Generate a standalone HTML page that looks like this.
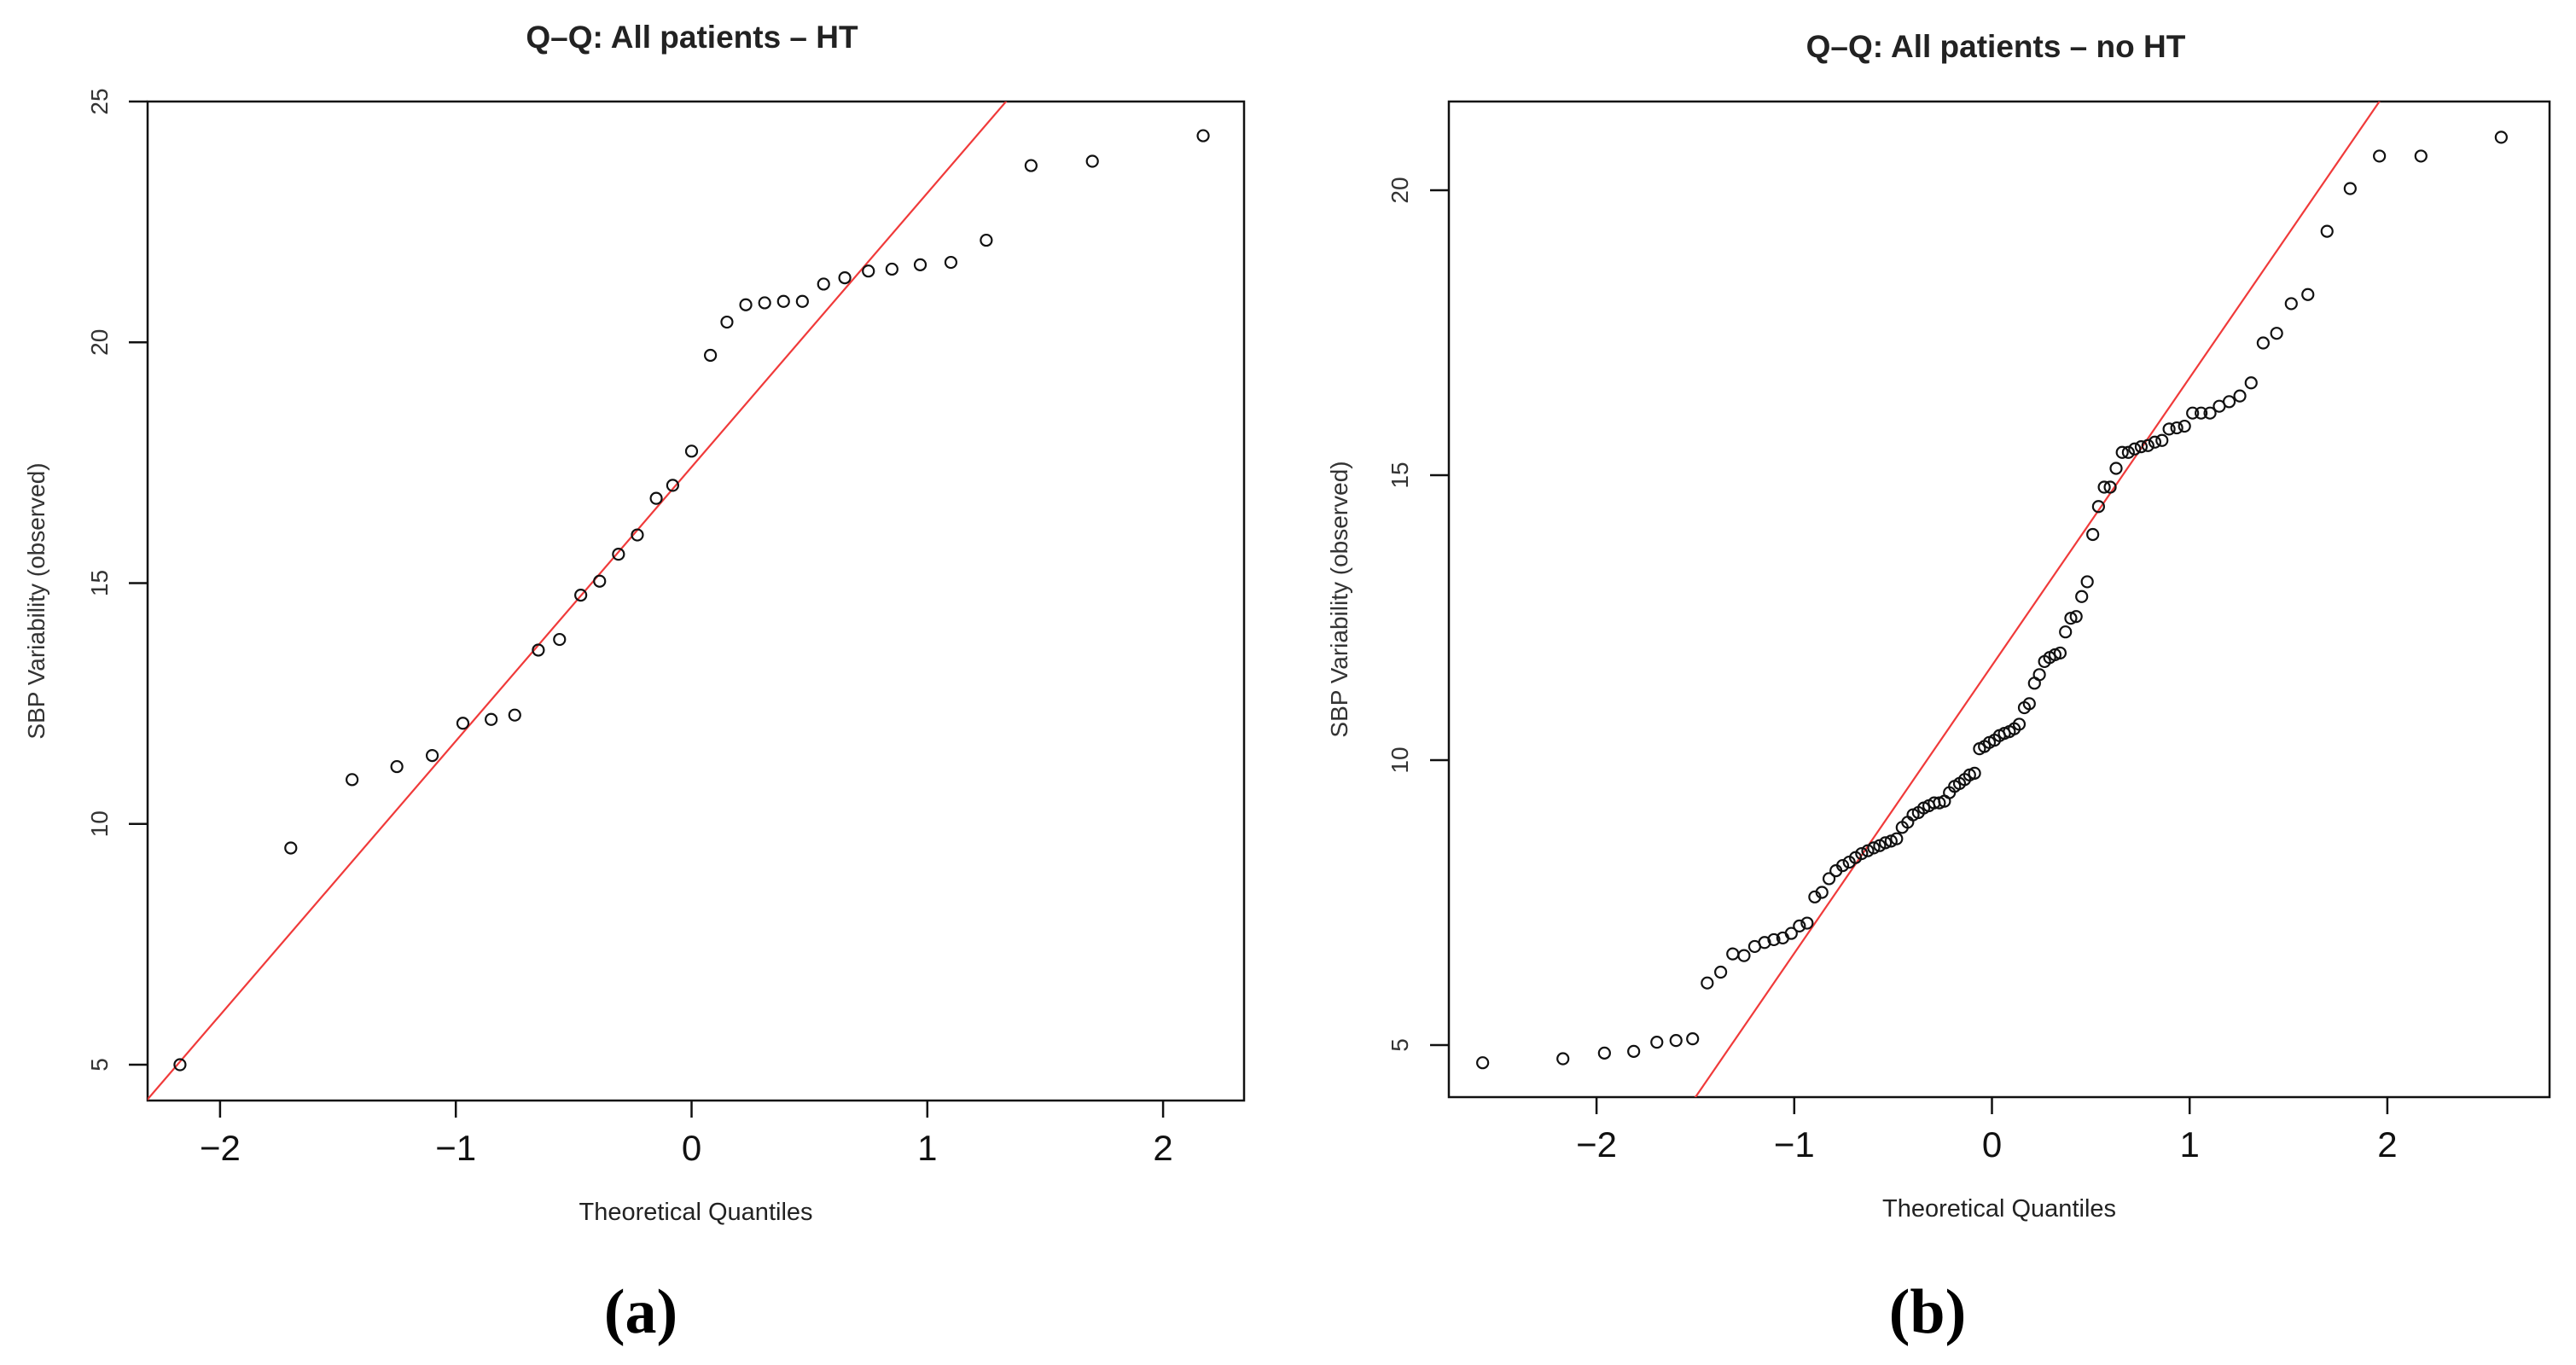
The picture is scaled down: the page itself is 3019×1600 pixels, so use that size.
<!DOCTYPE html>
<html><head><meta charset="utf-8"><style>
html,body{margin:0;padding:0;background:#fff;overflow:hidden;width:3019px;height:1600px}
svg{display:block}
</style></head><body>
<svg id="fig" width="3019" height="1600" viewBox="0 0 3019 1600" xmlns="http://www.w3.org/2000/svg" font-family="Liberation Sans, sans-serif">
<defs>
<clipPath id="clipA"><rect x="173" y="119" width="1285" height="1171"/></clipPath>
<clipPath id="clipB"><rect x="1698" y="119" width="1290" height="1167"/></clipPath>
</defs>
<g id="panelA"></g>
<g id="panelB"></g>
</svg>
<script>
// Panel (a) data
const aTheo = [-2.17,-1.70,-1.44,-1.25,-1.10,-0.97,-0.85,-0.75,-0.65,-0.56,-0.47,-0.39,-0.31,-0.23,-0.15,-0.08,0,0.08,0.15,0.23,0.31,0.39,0.47,0.56,0.65,0.75,0.85,0.97,1.10,1.25,1.44,1.70,2.17];
const aObs = [5.0,9.5,10.92,11.19,11.42,12.09,12.17,12.26,13.61,13.83,14.75,15.04,15.6,16.0,16.76,17.03,17.74,19.73,20.42,20.78,20.82,20.85,20.85,21.21,21.34,21.48,21.52,21.61,21.66,22.12,23.67,23.76,24.29];
const aLine = [5.69, 17.41]; // slope, intercept
const aXTicks = [-2,-1,0,1,2];
const aYTicks = [5,10,15,20,25];

// Panel (b) data
const bTheo = [-2.576,-2.17,-1.96,-1.812,-1.695,-1.598,-1.514,-1.44,-1.372,-1.311,-1.254,-1.2,-1.15,-1.103,-1.058,-1.015,-0.974,-0.935,-0.896,-0.86,-0.824,-0.789,-0.755,-0.722,-0.69,-0.659,-0.628,-0.598,-0.568,-0.539,-0.51,-0.482,-0.454,-0.426,-0.399,-0.372,-0.345,-0.319,-0.292,-0.266,-0.24,-0.215,-0.189,-0.164,-0.138,-0.113,-0.088,-0.063,-0.038,-0.013,0.013,0.038,0.063,0.088,0.113,0.138,0.164,0.189,0.215,0.24,0.266,0.292,0.319,0.345,0.372,0.399,0.426,0.454,0.482,0.51,0.539,0.568,0.598,0.628,0.659,0.69,0.722,0.755,0.789,0.824,0.86,0.896,0.935,0.974,1.015,1.058,1.103,1.15,1.2,1.254,1.311,1.372,1.44,1.514,1.598,1.695,1.812,1.96,2.17,2.576];
const bObs = [4.69,4.76,4.86,4.89,5.05,5.08,5.11,6.09,6.28,6.6,6.57,6.73,6.8,6.85,6.88,6.96,7.09,7.14,7.6,7.68,7.92,8.06,8.15,8.21,8.29,8.36,8.41,8.46,8.5,8.55,8.58,8.62,8.82,8.91,9.04,9.08,9.16,9.2,9.25,9.25,9.28,9.43,9.54,9.59,9.66,9.74,9.77,10.2,10.24,10.31,10.35,10.43,10.47,10.5,10.55,10.63,10.92,10.99,11.35,11.5,11.73,11.8,11.85,11.88,12.25,12.49,12.52,12.87,13.13,13.96,14.45,14.79,14.79,15.12,15.4,15.4,15.46,15.5,15.52,15.58,15.61,15.81,15.83,15.86,16.09,16.09,16.09,16.21,16.29,16.39,16.62,17.32,17.49,18.01,18.17,19.28,20.03,20.6,20.6,20.93];
const bLine = [5.05, 11.66];
const bXTicks = [-2,-1,0,1,2];
const bYTicks = [5,10,15,20];

const NS = "http://www.w3.org/2000/svg";
function mk(tag, attrs, parent, txt){
  const e = document.createElementNS(NS, tag);
  for (const k in attrs) e.setAttribute(k, attrs[k]);
  if (txt !== undefined) e.textContent = txt;
  parent.appendChild(e);
  return e;
}

function panel(g, cfg){
  const sx = v => cfg.x0px + (v - cfg.x0v) * cfg.xs;
  const sy = v => cfg.y0px - (v - cfg.y0v) * cfg.ys;
  const b = cfg.box;
  const t = mk('text', {x: cfg.titleX, y: cfg.titleY, 'text-anchor':'middle', 'font-size':37, 'font-weight':'bold', fill:'#222'}, g, cfg.title);
  
  
  const r = mk('rect', {x:b[0], y:b[1], width:b[2]-b[0], height:b[3]-b[1], fill:'none', stroke:'#111', 'stroke-width':2.5}, g);
  
  
  cfg.xt.forEach(v => {
    const x = sx(v);
    const tk = mk('line', {x1:x, x2:x, y1:b[3], y2:b[3]+20, stroke:'#111', 'stroke-width':2.5}, g);
    
    
    const lb = mk('text', {x:x, y:b[3]+70, 'text-anchor':'middle', 'font-size':42, fill:'#111'}, g, v < 0 ? '\u2212' + Math.abs(v) : String(v));
    
    
  });
  cfg.yt.forEach(v => {
    const y = sy(v);
    const tk = mk('line', {x1:b[0]-22, x2:b[0], y1:y, y2:y, stroke:'#111', 'stroke-width':2.5}, g);
    
    
    const lb = mk('text', {x:0, y:0, 'text-anchor':'middle', 'font-size':28, fill:'#333', transform:`translate(${cfg.yLabX},${y}) rotate(-90)`}, g, String(v));
    
    
  });
  const xt = mk('text', {x:(b[0]+b[2])/2, y:cfg.xTitleY, 'text-anchor':'middle', 'font-size':29, fill:'#222'}, g, 'Theoretical Quantiles');
  
  
  const yt = mk('text', {x:0, y:0, 'text-anchor':'middle', 'font-size':28, fill:'#333', transform:`translate(${cfg.yTitleX},${(b[1]+b[3])/2}) rotate(-90)`}, g, 'SBP Variability (observed)');
  
  
  const xa = -4, xb = 4;
  const ln = mk('line', {x1:sx(xa), y1:sy(cfg.line[1]+cfg.line[0]*xa), x2:sx(xb), y2:sy(cfg.line[1]+cfg.line[0]*xb), stroke:'#f03a3a', 'stroke-width':2.2, 'clip-path':`url(#${cfg.clip})`}, g);
  
  
  cfg.xs_.forEach((v, i) => {
    const c = mk('circle', {cx:sx(v), cy:sy(cfg.ys_[i]), r:6.5, fill:'none', stroke:'#111', 'stroke-width':2.2}, g);
    
    
  });
  const pl = mk('text', {x:cfg.labX, y:1562, 'text-anchor':'middle', 'font-size':74, 'font-weight':'bold', fill:'#000', 'font-family':'Liberation Serif, serif'}, g, cfg.lab);
  
  
}

panel(document.getElementById('panelA'), {
  title:'Q\u2013Q: All patients \u2013 HT', titleX:811, titleY:56,
  box:[173,119,1458,1290], x0px:810.5, x0v:0, xs:276.3, y0px:1248, y0v:5, ys:56.45,
  xt:aXTicks, yt:aYTicks, yLabX:126, yTitleX:52, xTitleY:1430,
  line:aLine, clip:'clipA', xs_:aTheo, ys_:aObs, labX:751, lab:'(a)'
});
panel(document.getElementById('panelB'), {
  title:'Q\u2013Q: All patients \u2013 no HT', titleX:2339, titleY:67,
  box:[1698,119,2988,1286], x0px:2334.5, x0v:0, xs:231.7, y0px:1225, y0v:5, ys:66.8,
  xt:bXTicks, yt:bYTicks, yLabX:1650, yTitleX:1579, xTitleY:1426,
  line:bLine, clip:'clipB', xs_:bTheo, ys_:bObs, labX:2259, lab:'(b)'
});
</script>
</body></html>
